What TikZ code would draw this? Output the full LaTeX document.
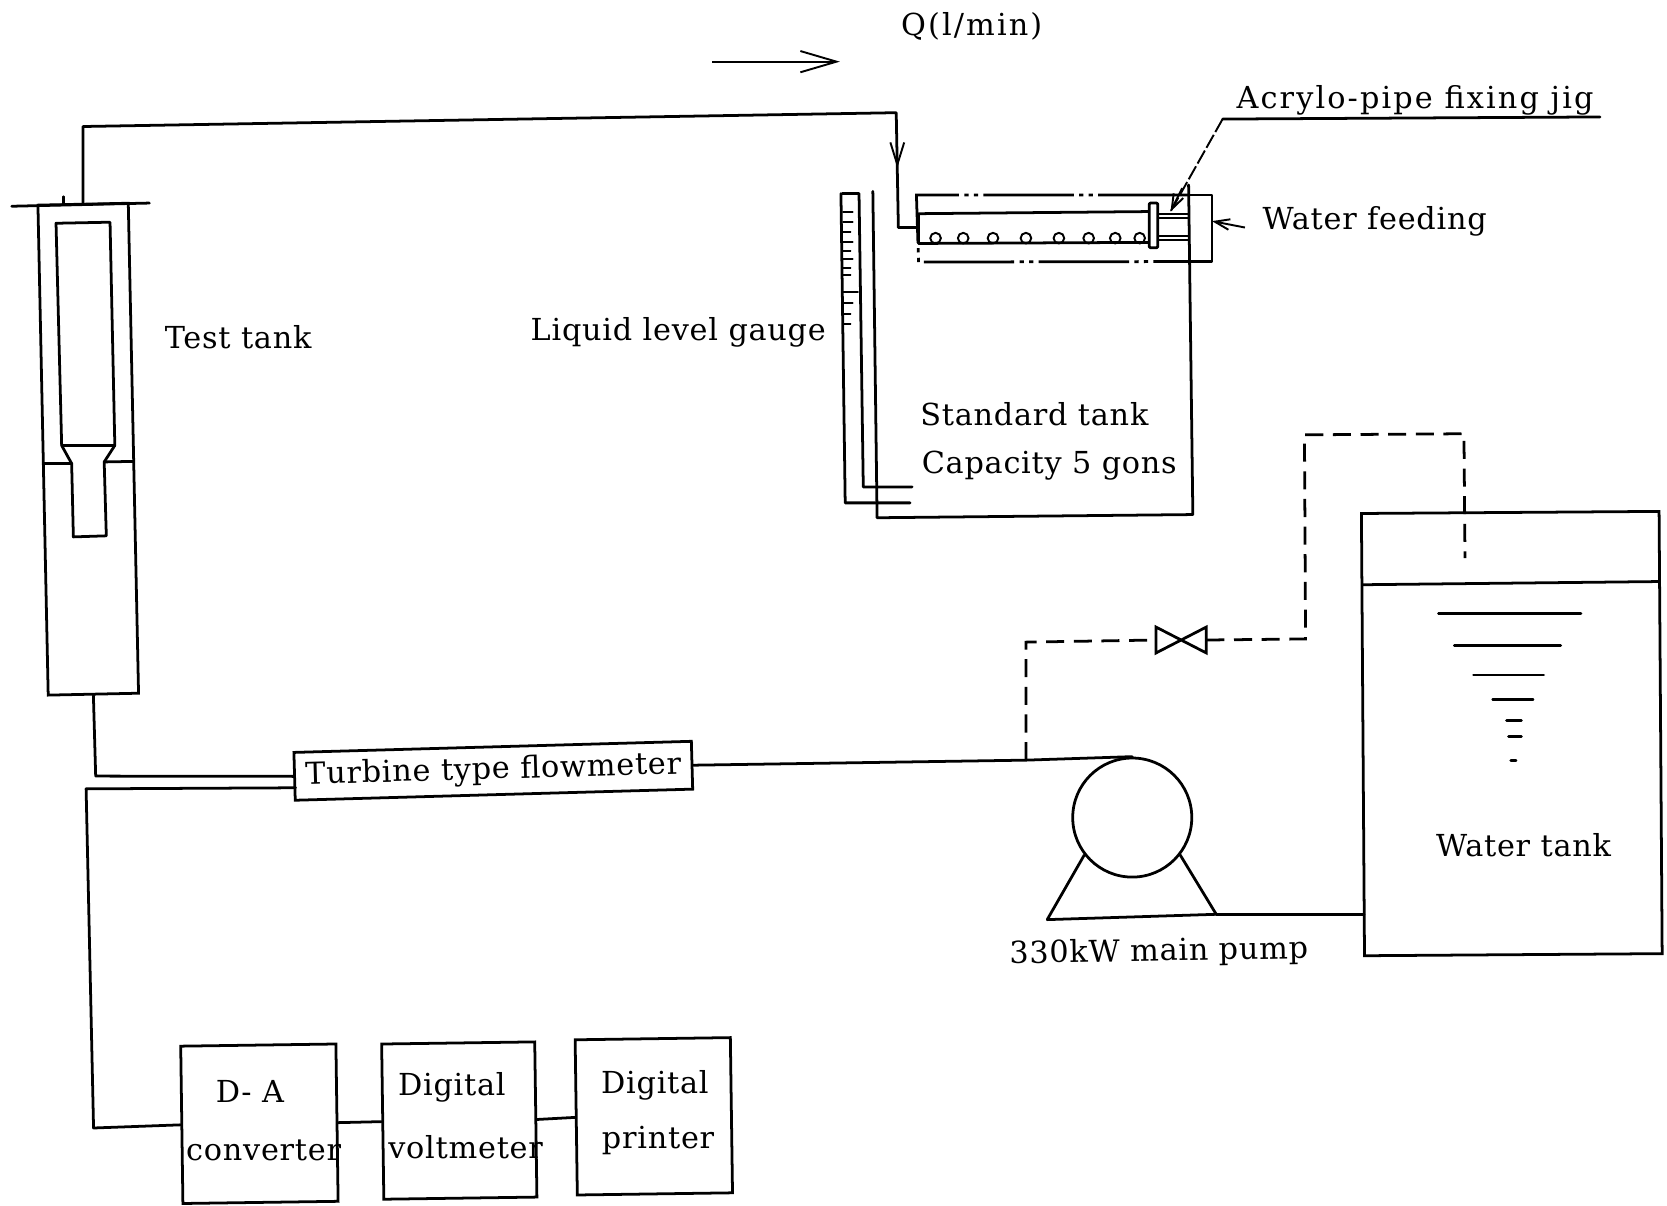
\documentclass[tikz,border=0pt]{standalone}
\usepackage{fontspec}
\setmainfont[LetterSpace=2.5]{DejaVu Serif}
\newfontfamily\widefont[LetterSpace=7]{DejaVu Serif}
\usetikzlibrary{arrows.meta}
\tikzset{
  pipe/.style={line width=2.6pt,line cap=round,line join=round},
  thinline/.style={line width=1.8pt,line cap=round},
  boxn/.style={draw,line width=2.6pt,inner sep=0pt,rectangle},
  lab/.style={inner sep=0pt,font=\fontsize{28.5}{32}\selectfont},
  widelab/.style={inner sep=0pt,font=\widefont\fontsize{28.5}{32}\selectfont},
  dashp/.style={line width=2.6pt,dash pattern=on 17pt off 9pt},
  jigb/.style={line width=2.6pt,dash pattern=on 85pt off 5pt on 4pt off 5pt on 4pt off 5pt},
  barb/.style={-{Straight Barb[length=21pt,width=13pt,line width=1.8pt]}}
}
\begin{document}
\begin{tikzpicture}[x=1pt,y=-1pt]
\useasboundingbox (0,0) rectangle (1568,1134);
% labels
\node[widelab] (qlabel) at (914,25) {Q(l/min)};
\coordinate (qa) at (670,58); \coordinate (qb) at (790,58);
\draw[line width=1.8pt,-{Straight Barb[length=34pt,width=20pt,line width=1.8pt]}] (qa) -- (qb);
\node[widelab] (acrylo) at (1331,94) {Acrylo-pipe fixing jig};
\node[lab] (feed) at (1293,208) {Water feeding};
\node[lab] (test) at (224,317) {Test tank};
\node[lab] (gauge) at (638,313) {Liquid level gauge};
\node[lab] (std) at (973,390) {Standard tank};
\node[lab] (cap) at (987,438) {Capacity 5 gons};
\node[lab] (water) at (1433,795) {Water tank};
\node[lab,rotate=1] (pumpl) at (1090,896) {330kW main pump};
% test tank
\node[boxn,minimum width=85pt,minimum height=461pt,rotate=1.2] (tank) at (83,422.5) {};
\coordinate (barl) at (11,194); \coordinate (barr) at (140.5,191);
\draw[pipe] (barl) -- (barr);
\draw[pipe,fill=white] (52.7,210) -- (103.5,209) -- (108,419) -- (58,419) -- cycle;
\draw[pipe] (58,419) -- (67.4,436) -- (69,505) -- (100,504) -- (98,434.5) -- (108,419);
\draw[pipe] (41.7,436) -- (67.4,436) (98,434.5) -- (125.4,434);
\draw[pipe] (59.6,185) -- (59.6,191);
% jig and standard tank
\node[inner sep=0pt,minimum size=0pt] (jigin) at (863,214) {};
\draw[pipe] (tank.north) -- (78,119) -- (843,106) -- (845,214) -- (jigin);
\coordinate (mid) at (844,158); \coordinate (midb) at (844,135);
\draw[barb] (midb) -- (mid);
\draw[jigb] (1118,183.5) -- (862,183.5) -- (864,246.5) -- (1118,246);
\draw[pipe] (1118,183.5) -- (1140,183.5) -- (1140,246) -- (1118,246);
\draw[pipe] (864,201) -- (1080,199) (864,229) -- (1080,228) (864,201) -- (864,229);
\draw[pipe,rounded corners=1pt,fill=white] (1081,191) rectangle (1089,233);
\draw[thinline] (1089,201) -- (1118,201) (1089,205) -- (1118,205) (1089,222) -- (1118,222) (1089,226) -- (1118,226);
\foreach \xx in {880,906,934,965,996,1024,1049,1072}{\draw[thinline] (\xx,224) circle (5pt);}
\draw[pipe] (1118,174) -- (1122,484) -- (825,487) -- (821,180);
% gauge
\draw[line width=3.5pt] (792,182) -- (808,182);
\draw[pipe] (791,182) -- (795,473) -- (856,473);
\draw[pipe] (808,182) -- (812,458) -- (858,458);
\foreach \yy/\ll in {199/9,209/9,218/7,228/9,236.5/7,244/9,252/7,259/7,275/14,285/9,295/7,305/7}{\draw[thinline] (793,\yy) -- ++(\ll,0);}
% acrylo leader
\coordinate (leadr) at (1505,110); \coordinate (leadc) at (1150,112); \coordinate (leadt) at (1101,199);
\draw[pipe] (leadr) -- (leadc);
\draw[line width=1.8pt,dash pattern=on 14pt off 3pt] (leadc) -- (leadt);
\draw[line width=1.8pt,-{Straight Barb[length=14pt,width=10pt,line width=1.8pt]}] (1112,177) -- (leadt);
% water feeding arrow
\coordinate (wf) at (1171,214); \coordinate (wft) at (1140,208);
\draw[line width=1.8pt,-{Straight Barb[length=14pt,width=10pt,line width=1.8pt]}] (wf) -- (wft);
% flowmeter
\node[boxn,minimum width=374pt,minimum height=45pt,rotate=1.6,font=\fontsize{28.5}{32}\selectfont] (fm) at (464,725) {Turbine type flowmeter};
\coordinate (sig) at (278,741);
\draw[pipe] (tank.south) -- (90,730) -- (fm.west);
% pump
\node[draw,circle,line width=2.6pt,minimum size=112pt,inner sep=0pt] (pump) at (1065,769) {};
\coordinate (branch) at (965,715);
\draw[pipe] (fm.east) -- (branch) -- (pump.north);
\coordinate (bl) at (985,865); \coordinate (br) at (1144,860);
\draw[pipe] (pump.218) -- (bl) -- (br) -- (pump.322);
% water tank
\node[boxn,minimum width=280pt,minimum height=416pt,rotate=0.4] (wt) at (1422,690) {};
\coordinate (wtin) at (1283,860);
\draw[pipe] (br) -- (wtin);
\coordinate (lvl) at (1282,550); \coordinate (lvr) at (1561,547);
\draw[pipe] (lvl) -- (lvr);
\foreach \a/\b/\yy in {1353/1487/577,1368/1468/607,1386/1452/635,1404/1442/658,1417/1431/678,1419/1431/693,1421/1426/715}{\draw[pipe] (\a,\yy) -- (\b,\yy);}
% valve
\node[inner sep=0pt,minimum width=47pt,minimum height=24pt] (valve) at (1111,602) {};
\draw[line join=miter,line width=2.6pt] (valve.north west) -- (valve.south east) -- (valve.north east) -- (valve.south west) -- cycle;
\coordinate (wtdrop) at (1378,525);
\draw[dashp] (branch) -- (965,604) -- (valve.west);
\draw[dashp] (valve.east) -- (1228,601) -- (1227,409) -- (1377,408) -- (wtdrop);
% instrument boxes
\node[boxn,minimum width=146pt,minimum height=148pt,rotate=0.8] (da) at (244,1057) {};
\node[boxn,minimum width=144pt,minimum height=146pt,rotate=0.8] (dv) at (432,1054) {};
\node[boxn,minimum width=146pt,minimum height=146pt,rotate=0.8] (dp) at (615,1050) {};
\node[lab] (t1) at (235,1027) {D- A};
\node[lab] (t2) at (248,1082) {converter};
\node[lab] (t3) at (425,1023) {Digital};
\node[lab] (t4) at (438,1079) {voltmeter};
\node[lab] (t5) at (616,1021) {Digital};
\node[lab] (t6) at (619,1073) {printer};
\draw[pipe] (sig) -- (81,742) -- (88,1061) -- (da.west);
\draw[pipe] (da.east) -- (dv.west);
\draw[pipe] (dv.east) -- (dp.west);
\end{tikzpicture}
\end{document}
